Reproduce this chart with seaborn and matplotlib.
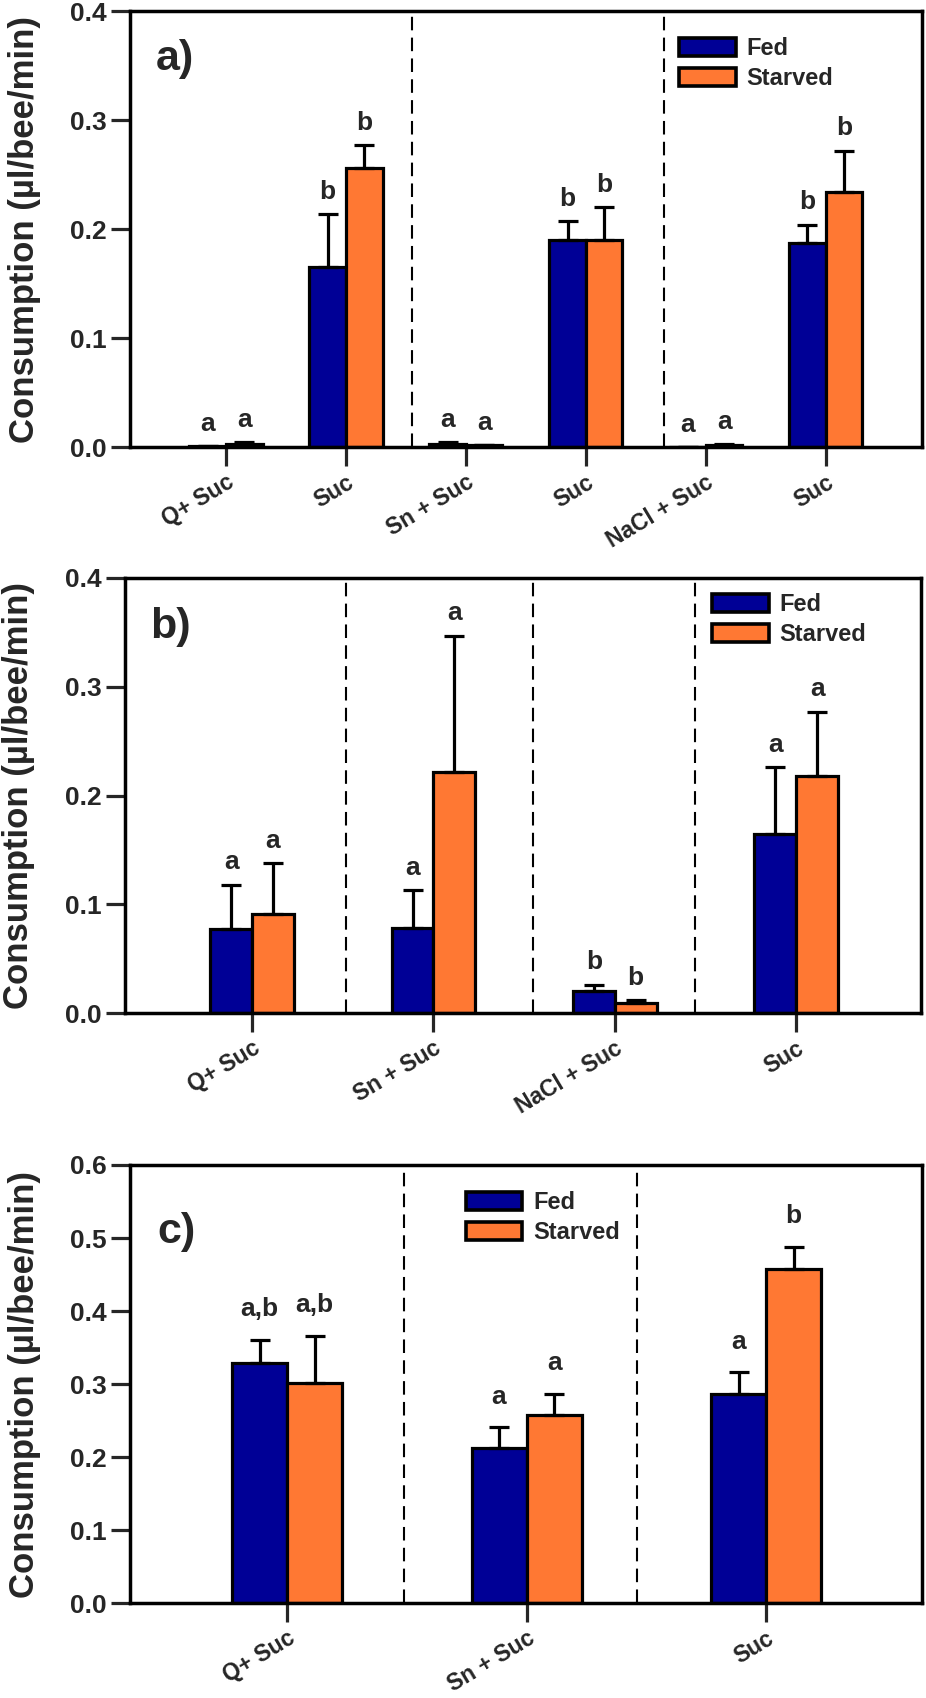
import numpy as np
import pandas as pd
import matplotlib
matplotlib.use('Agg')
import matplotlib.pyplot as plt
from matplotlib.patches import Patch
import seaborn as sns

# ---- data ----
groups_a = ['Q+ Suc', 'Suc', 'Sn + Suc', 'Suc', 'NaCl + Suc', 'Suc']
fed_a = [0.001, 0.165, 0.003, 0.190, 0.0, 0.187]
fed_err_a = [0.0, 0.049, 0.0015, 0.017, 0.0, 0.017]
starved_a = [0.003, 0.256, 0.002, 0.190, 0.002, 0.234]
starved_err_a = [0.0015, 0.021, 0.0, 0.030, 0.001, 0.038]
letters_fed_a = ['a', 'b', 'a', 'b', 'a', 'b']
letters_starved_a = ['a', 'b', 'a', 'b', 'a', 'b']

groups_b = ['Q+ Suc', 'Sn + Suc', 'NaCl + Suc', 'Suc']
fed_b = [0.077, 0.078, 0.020, 0.165]
fed_err_b = [0.041, 0.035, 0.006, 0.061]
starved_b = [0.091, 0.222, 0.009, 0.218]
starved_err_b = [0.047, 0.125, 0.003, 0.059]
letters_fed_b = ['a', 'a', 'b', 'a']
letters_starved_b = ['a', 'a', 'b', 'a']

groups_c = ['Q+ Suc', 'Sn + Suc', 'Suc']
fed_c = [0.329, 0.212, 0.287]
fed_err_c = [0.032, 0.029, 0.029]
starved_c = [0.301, 0.258, 0.458]
starved_err_c = [0.065, 0.029, 0.030]
letters_fed_c = ['a,b', 'a', 'a']
letters_starved_c = ['a,b', 'a', 'b']

BLUE = '#000096'
ORANGE = '#FF7833'

sns.set_style('white')
plt.rcParams['font.family'] = ['Liberation Sans', 'DejaVu Sans']


def draw_panel(ax, groups, fed, fed_err, starved, starved_err, lf, ls,
               width, xlim, ylim, yticks, dashes, leg_xy, tag, tag_xy, pad):
    n = len(groups)
    df = pd.DataFrame({
        'pos': list(range(n)) * 2,
        'Condition': ['Fed'] * n + ['Starved'] * n,
        'value': fed + starved,
    })
    sns.barplot(data=df, x='pos', y='value', hue='Condition',
                palette={'Fed': BLUE, 'Starved': ORANGE}, saturation=1,
                width=width, errorbar=None, edgecolor='black', linewidth=2.3,
                legend=False, ax=ax, zorder=2)
    # one-sided (upper) error bars and significance letters
    for cont, vals, errs, lets in zip(ax.containers, [fed, starved],
                                      [fed_err, starved_err], [lf, ls]):
        xs = [b.get_x() + b.get_width() / 2 for b in cont]
        ax.errorbar(xs, vals, yerr=[np.zeros(n), errs], fmt='none',
                    ecolor='black', elinewidth=2.3, capsize=7, capthick=2.3,
                    zorder=3)
        for x, v, e, t in zip(xs, vals, errs, lets):
            ax.annotate(t, (x, v + e), xytext=(0, pad), textcoords='offset points',
                        ha='center', va='baseline', fontsize=19,
                        fontweight='bold')
    for d in dashes:
        ax.axvline(d, color='black', lw=1.5, ls=(0, (6.5, 3.5)), zorder=1)

    ax.set_xlim(*xlim)
    ax.set_ylim(*ylim)
    ax.set_yticks(yticks)
    ax.set_yticklabels([f'{t:.1f}' for t in yticks], fontsize=19,
                       fontweight='bold')
    ax.set_xticks(range(n))
    ax.set_xticklabels(groups, rotation=31, ha='right', rotation_mode='anchor',
                       fontsize=16.5, fontweight='bold')
    ax.tick_params(axis='y', direction='out', length=14, width=2.3, pad=3, left=True)
    ax.tick_params(axis='x', direction='out', length=14, width=2.3, pad=3, bottom=True)
    for s in ax.spines.values():
        s.set_linewidth(2.5)
        s.set_color('black')
    ax.set_xlabel('')
    ax.set_ylabel('Consumption (µl/bee/min)', fontsize=25, fontweight='bold')
    ax.yaxis.set_label_coords(-0.113, 0.5)

    handles = [Patch(facecolor=BLUE, edgecolor='black', lw=2.6, label='Fed'),
               Patch(facecolor=ORANGE, edgecolor='black', lw=2.6, label='Starved')]
    ax.legend(handles=handles, loc='upper left', bbox_to_anchor=leg_xy,
              frameon=False, handlelength=2.4, handleheight=0.8,
              handletextpad=0.45, labelspacing=0.3, borderaxespad=0, borderpad=0,
              prop={'weight': 'bold', 'size': 17})
    ax.text(tag_xy[0], tag_xy[1], tag, transform=ax.transAxes, fontsize=31,
            fontweight='bold', ha='left', va='center')


fig = plt.figure(figsize=(9.26, 16.98), dpi=100)
ax_a = fig.add_axes([0.1404, 0.7367, 0.855, 0.2568])
ax_b = fig.add_axes([0.1350, 0.4034, 0.860, 0.2562])
ax_c = fig.add_axes([0.1404, 0.0559, 0.855, 0.2580])

draw_panel(ax_a, groups_a, fed_a, fed_err_a, starved_a, starved_err_a,
           letters_fed_a, letters_starved_a, width=0.61, xlim=(-0.8, 5.8),
           ylim=(0, 0.4), yticks=[0.0, 0.1, 0.2, 0.3, 0.4],
           dashes=[1.55, 3.65], leg_xy=(0.694, 0.94), tag='a)',
           tag_xy=(0.032, 0.89), pad=11)
draw_panel(ax_b, groups_b, fed_b, fed_err_b, starved_b, starved_err_b,
           letters_fed_b, letters_starved_b, width=0.46, xlim=(-0.7, 3.69),
           ylim=(0, 0.4), yticks=[0.0, 0.1, 0.2, 0.3, 0.4],
           dashes=[0.52, 1.55, 2.44], leg_xy=(0.737, 0.965), tag='b)',
           tag_xy=(0.031, 0.887), pad=11)
draw_panel(ax_c, groups_c, fed_c, fed_err_c, starved_c, starved_err_c,
           letters_fed_c, letters_starved_c, width=0.46, xlim=(-0.656, 2.65),
           ylim=(0, 0.6), yticks=[0.0, 0.1, 0.2, 0.3, 0.4, 0.5, 0.6],
           dashes=[0.49, 1.46], leg_xy=(0.424, 0.94), tag='c)',
           tag_xy=(0.034, 0.847), pad=17)

fig.savefig('out.png', dpi=100)
